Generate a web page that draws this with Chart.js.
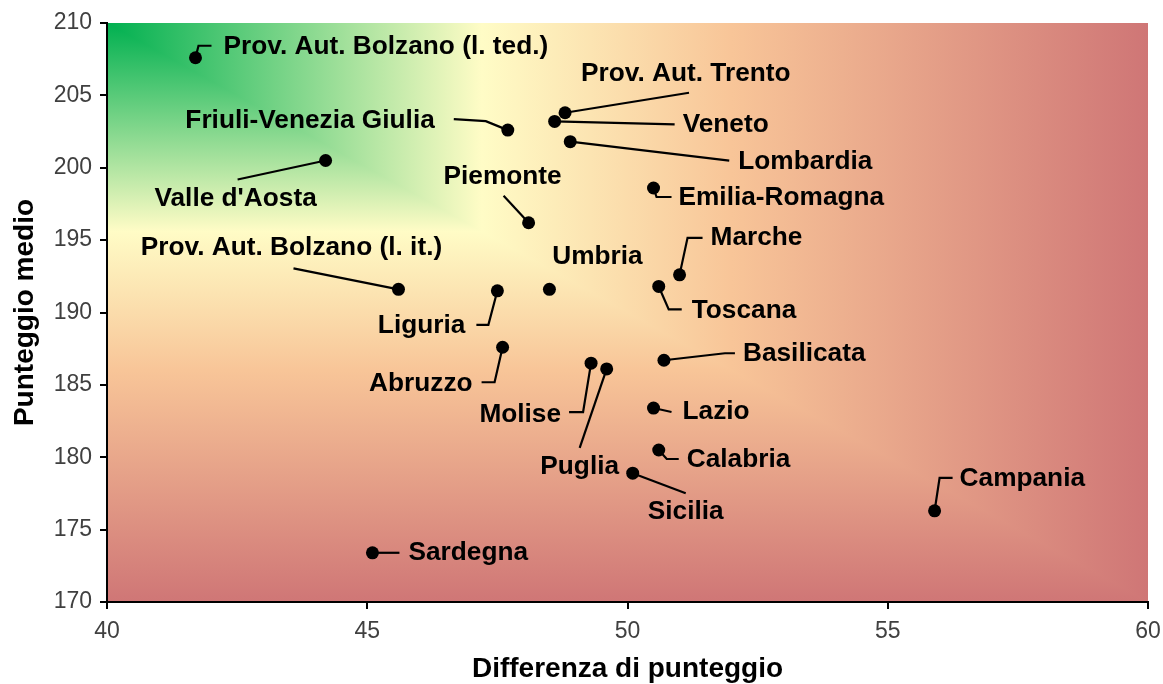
<!DOCTYPE html>
<html lang="it">
<head>
<meta charset="utf-8">
<title>Punteggio medio e differenza di punteggio</title>
<script src="https://cdn.jsdelivr.net/npm/chart.js@4.4.1/dist/chart.umd.min.js"></script>
<style>
  html, body { margin: 0; padding: 0; background: #fff; }
  #contenitore { width: 1163px; height: 684px; }
</style>
</head>
<body>
<div id="contenitore"><canvas id="grafico"></canvas></div>
<script>
// Dati (una voce per regione)
const regioni = [
    "Prov. Aut. Bolzano (l. ted.)", "Valle d'Aosta", "Friuli-Venezia Giulia",
    "Prov. Aut. Trento", "Veneto", "Lombardia", "Emilia-Romagna", "Piemonte",
    "Marche", "Toscana", "Umbria", "Prov. Aut. Bolzano (l. it.)", "Liguria",
    "Abruzzo", "Basilicata", "Molise", "Puglia", "Lazio", "Calabria",
    "Sicilia", "Campania", "Sardegna"
];
const differenze = [
    41.7, 44.2, 47.7, 48.8, 48.6, 48.9, 50.5, 48.1,
    51.0, 50.6, 48.5, 45.6, 47.5,
    47.6, 50.7, 49.3, 49.6, 50.5, 50.6,
    50.1, 55.9, 45.1
];
const punteggi = [
    207.6, 200.5, 202.6, 203.8, 203.2, 201.8, 198.6, 196.2,
    192.6, 191.8, 191.6, 191.6, 191.5,
    187.6, 186.7, 186.5, 186.1, 183.4, 180.5,
    178.9, 176.3, 173.4
];
const tickX = [40, 45, 50, 55, 60];
const tickY = [170, 175, 180, 185, 190, 195, 200, 205, 210];

// Dove mettere ogni etichetta rispetto al suo punto (pixel), con la linea di richiamo
const posEtichette = [
    { t: [28, -11], a: "left",   l: [[3, -12], [16, -12]] },
    { t: [-90, 39], a: "center", l: [[-88, 19]] },
    { t: [-73, -9], a: "right",  l: [[-22, -9], [-54, -11]] },
    { t: [16, -39], a: "left",   l: [[124, -20]] },
    { t: [128, 4],  a: "left",   l: [[120, 3]] },
    { t: [168, 20], a: "left",   l: [[159, 19]] },
    { t: [25, 10],  a: "left",   l: [[3, 9], [18, 9]] },
    { t: [-26, -46], a: "center", l: [[-25, -27]] },
    { t: [31, -37], a: "left",   l: [[8, -37], [23, -37]] },
    { t: [33, 25],  a: "left",   l: [[10, 23], [23, 23]] },
    { t: [48, -32], a: "center", l: [] },
    { t: [-107, -41], a: "center", l: [[-105, -21]] },
    { t: [-32, 35], a: "right",  l: [[-9, 34], [-21, 34]] },
    { t: [-30, 37], a: "right",  l: [[-8, 35], [-21, 35]] },
    { t: [79, -6],  a: "left",   l: [[61, -7], [71, -7]] },
    { t: [-30, 52], a: "right",  l: [[-8, 49], [-22, 49]] },
    { t: [-27, 98], a: "center", l: [[-27, 79]] },
    { t: [29, 4],   a: "left",   l: [[18, 4]] },
    { t: [28, 10],  a: "left",   l: [[8, 9], [20, 9]] },
    { t: [53, 39],  a: "center", l: [[53, 20]] },
    { t: [25, -32], a: "left",   l: [[5, -33], [18, -33]] },
    { t: [36, 0],   a: "left",   l: [[27, 0]] }
];

const FONT = '"Liberation Sans", Arial, sans-serif';

// Sfondo sfumato "dall'angolo" come in Excel: verde in alto a sinistra, rosso lontano
function aggiungiStop(g) {
    g.addColorStop(0, '#00b050');
    g.addColorStop(0.36, '#fffcc6');
    g.addColorStop(0.6, '#f8c598');
    g.addColorStop(1, '#cf7676');
}

const sfondo = {
    id: 'sfondo',
    beforeDraw(chart) {
        const { ctx, chartArea: { left, top, right, bottom } } = chart;
        ctx.save();
        const gv = ctx.createLinearGradient(0, top, 0, bottom);
        aggiungiStop(gv);
        ctx.fillStyle = gv;
        ctx.fillRect(left, top, right - left, bottom - top);

        // triangolo in alto a destra: la sfumatura va in orizzontale
        ctx.beginPath();
        ctx.moveTo(left, top);
        ctx.lineTo(right, top);
        ctx.lineTo(right, bottom);
        ctx.closePath();
        ctx.clip();
        const go = ctx.createLinearGradient(left, 0, right, 0);
        aggiungiStop(go);
        ctx.fillStyle = go;
        ctx.fillRect(left, top, right - left, bottom - top);
        ctx.restore();
    }
};

const etichette = {
    id: 'etichette',
    beforeDatasetsDraw(chart) {
        const ctx = chart.ctx;
        const punti = chart.getDatasetMeta(0).data;
        ctx.save();
        ctx.strokeStyle = '#000';
        ctx.lineWidth = 2.2;
        ctx.lineJoin = 'miter';
        punti.forEach((p, i) => {
            const linea = posEtichette[i].l;
            if (!linea.length) return;
            ctx.beginPath();
            ctx.moveTo(p.x, p.y);
            linea.forEach(([dx, dy]) => ctx.lineTo(p.x + dx, p.y + dy));
            ctx.stroke();
        });
        ctx.restore();
    },
    afterDatasetsDraw(chart) {
        const ctx = chart.ctx;
        const punti = chart.getDatasetMeta(0).data;
        ctx.fillStyle = '#000';
        ctx.font = 'bold 25px ' + FONT;
        ctx.textBaseline = 'middle';
        punti.forEach((p, i) => {
            const pos = posEtichette[i];
            ctx.save();
            ctx.textAlign = pos.a;
            // il testo dell'originale è un po' allargato
            ctx.translate(p.x + pos.t[0], p.y + pos.t[1]);
            ctx.scale(1.05, 1);
            ctx.fillText(regioni[i], 0, 0);
            ctx.restore();
        });
    }
};

new Chart(document.getElementById('grafico'), {
    type: 'scatter',
    data: {
        datasets: [{
            data: differenze.map((x, i) => ({ x: x, y: punteggi[i] })),
            backgroundColor: '#000',
            borderWidth: 0,
            pointRadius: 6.5,
            pointHoverRadius: 6.5
        }]
    },
    options: {
        responsive: true,
        maintainAspectRatio: false,
        animation: false,
        events: [],
        layout: { padding: { top: 23, right: 15, left: 0, bottom: 0 } },
        plugins: {
            legend: { display: false },
            tooltip: { enabled: false }
        },
        scales: {
            x: {
                type: 'linear',
                min: 40,
                max: 60,
                afterBuildTicks: s => { s.ticks = tickX.map(v => ({ value: v })); },
                // altezza fissa e niente margine extra per l'etichetta "60"
                afterFit: s => { s.height = 82; s.paddingLeft = 0; s.paddingRight = 0; },
                grid: { drawOnChartArea: false, tickLength: 7, color: '#000', lineWidth: 2 },
                border: { color: '#000', width: 2 },
                ticks: { color: '#404040', font: { family: FONT, size: 23 }, padding: 9, maxRotation: 0 },
                title: {
                    display: true,
                    text: 'Differenza di punteggio',
                    color: '#000',
                    font: { family: FONT, size: 28, weight: 'bold' },
                    padding: { top: 0, bottom: -2 }
                }
            },
            y: {
                type: 'linear',
                min: 170,
                max: 210,
                afterBuildTicks: s => { s.ticks = tickY.map(v => ({ value: v })); },
                afterFit: s => { s.width = 107; s.paddingTop = 0; s.paddingBottom = 0; },
                grid: { drawOnChartArea: false, tickLength: 7, color: '#000', lineWidth: 2 },
                border: { color: '#000', width: 2 },
                ticks: { color: '#404040', font: { family: FONT, size: 23 }, padding: 8 },
                title: {
                    display: true,
                    text: 'Punteggio medio',
                    color: '#000',
                    font: { family: FONT, size: 28, weight: 'bold' },
                    padding: { top: 8, bottom: 0 }
                }
            }
        }
    },
    plugins: [sfondo, etichette]
});
</script>
</body>
</html>
